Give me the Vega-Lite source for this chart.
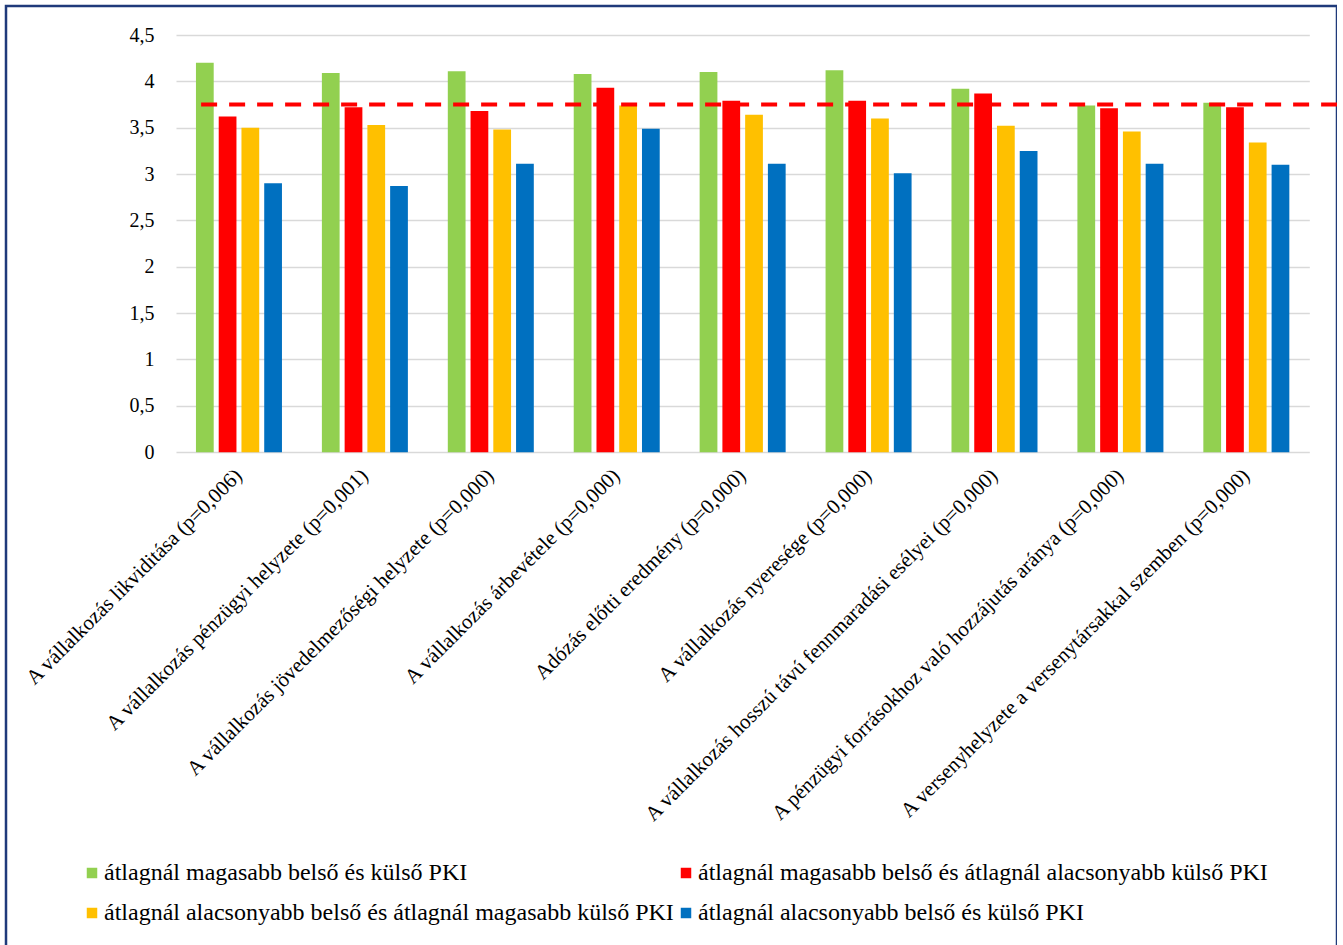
{
  "$schema": "https://vega.github.io/schema/vega-lite/v6.json",
  "width": 1331,
  "height": 945,
  "autosize": "none",
  "padding": {"left": 6, "top": 6, "right": 0, "bottom": 0},
  "background": "white",
  "config": {
    "view": {"stroke": "#1F3A7A", "strokeWidth": 2.5},
    "font": "Times New Roman, Liberation Serif, serif"
  },
  "datasets": {
    "bars": [
      {"cat": "A vállalkozás likviditása (p=0,006)", "series": "átlagnál magasabb belső és külső PKI", "value": 4.20},
      {"cat": "A vállalkozás likviditása (p=0,006)", "series": "átlagnál magasabb belső és átlagnál alacsonyabb külső PKI", "value": 3.62},
      {"cat": "A vállalkozás likviditása (p=0,006)", "series": "átlagnál alacsonyabb belső és átlagnál magasabb külső PKI", "value": 3.50},
      {"cat": "A vállalkozás likviditása (p=0,006)", "series": "átlagnál alacsonyabb belső és külső PKI", "value": 2.90},
      {"cat": "A vállalkozás pénzügyi helyzete (p=0,001)", "series": "átlagnál magasabb belső és külső PKI", "value": 4.09},
      {"cat": "A vállalkozás pénzügyi helyzete (p=0,001)", "series": "átlagnál magasabb belső és átlagnál alacsonyabb külső PKI", "value": 3.72},
      {"cat": "A vállalkozás pénzügyi helyzete (p=0,001)", "series": "átlagnál alacsonyabb belső és átlagnál magasabb külső PKI", "value": 3.53},
      {"cat": "A vállalkozás pénzügyi helyzete (p=0,001)", "series": "átlagnál alacsonyabb belső és külső PKI", "value": 2.87},
      {"cat": "A vállalkozás jövedelmezőségi helyzete (p=0,000)", "series": "átlagnál magasabb belső és külső PKI", "value": 4.11},
      {"cat": "A vállalkozás jövedelmezőségi helyzete (p=0,000)", "series": "átlagnál magasabb belső és átlagnál alacsonyabb külső PKI", "value": 3.68},
      {"cat": "A vállalkozás jövedelmezőségi helyzete (p=0,000)", "series": "átlagnál alacsonyabb belső és átlagnál magasabb külső PKI", "value": 3.48},
      {"cat": "A vállalkozás jövedelmezőségi helyzete (p=0,000)", "series": "átlagnál alacsonyabb belső és külső PKI", "value": 3.11},
      {"cat": "A vállalkozás árbevétele (p=0,000)", "series": "átlagnál magasabb belső és külső PKI", "value": 4.08},
      {"cat": "A vállalkozás árbevétele (p=0,000)", "series": "átlagnál magasabb belső és átlagnál alacsonyabb külső PKI", "value": 3.93},
      {"cat": "A vállalkozás árbevétele (p=0,000)", "series": "átlagnál alacsonyabb belső és átlagnál magasabb külső PKI", "value": 3.74},
      {"cat": "A vállalkozás árbevétele (p=0,000)", "series": "átlagnál alacsonyabb belső és külső PKI", "value": 3.49},
      {"cat": "Adózás előtti eredmény (p=0,000)", "series": "átlagnál magasabb belső és külső PKI", "value": 4.10},
      {"cat": "Adózás előtti eredmény (p=0,000)", "series": "átlagnál magasabb belső és átlagnál alacsonyabb külső PKI", "value": 3.79},
      {"cat": "Adózás előtti eredmény (p=0,000)", "series": "átlagnál alacsonyabb belső és átlagnál magasabb külső PKI", "value": 3.64},
      {"cat": "Adózás előtti eredmény (p=0,000)", "series": "átlagnál alacsonyabb belső és külső PKI", "value": 3.11},
      {"cat": "A vállalkozás nyeresége (p=0,000)", "series": "átlagnál magasabb belső és külső PKI", "value": 4.12},
      {"cat": "A vállalkozás nyeresége (p=0,000)", "series": "átlagnál magasabb belső és átlagnál alacsonyabb külső PKI", "value": 3.79},
      {"cat": "A vállalkozás nyeresége (p=0,000)", "series": "átlagnál alacsonyabb belső és átlagnál magasabb külső PKI", "value": 3.60},
      {"cat": "A vállalkozás nyeresége (p=0,000)", "series": "átlagnál alacsonyabb belső és külső PKI", "value": 3.01},
      {"cat": "A vállalkozás hosszú távú fennmaradási esélyei (p=0,000)", "series": "átlagnál magasabb belső és külső PKI", "value": 3.92},
      {"cat": "A vállalkozás hosszú távú fennmaradási esélyei (p=0,000)", "series": "átlagnál magasabb belső és átlagnál alacsonyabb külső PKI", "value": 3.87},
      {"cat": "A vállalkozás hosszú távú fennmaradási esélyei (p=0,000)", "series": "átlagnál alacsonyabb belső és átlagnál magasabb külső PKI", "value": 3.52},
      {"cat": "A vállalkozás hosszú távú fennmaradási esélyei (p=0,000)", "series": "átlagnál alacsonyabb belső és külső PKI", "value": 3.25},
      {"cat": "A pénzügyi forrásokhoz való hozzájutás aránya (p=0,000)", "series": "átlagnál magasabb belső és külső PKI", "value": 3.74},
      {"cat": "A pénzügyi forrásokhoz való hozzájutás aránya (p=0,000)", "series": "átlagnál magasabb belső és átlagnál alacsonyabb külső PKI", "value": 3.71},
      {"cat": "A pénzügyi forrásokhoz való hozzájutás aránya (p=0,000)", "series": "átlagnál alacsonyabb belső és átlagnál magasabb külső PKI", "value": 3.46},
      {"cat": "A pénzügyi forrásokhoz való hozzájutás aránya (p=0,000)", "series": "átlagnál alacsonyabb belső és külső PKI", "value": 3.11},
      {"cat": "A versenyhelyzete a versenytársakkal szemben (p=0,000)", "series": "átlagnál magasabb belső és külső PKI", "value": 3.77},
      {"cat": "A versenyhelyzete a versenytársakkal szemben (p=0,000)", "series": "átlagnál magasabb belső és átlagnál alacsonyabb külső PKI", "value": 3.72},
      {"cat": "A versenyhelyzete a versenytársakkal szemben (p=0,000)", "series": "átlagnál alacsonyabb belső és átlagnál magasabb külső PKI", "value": 3.34},
      {"cat": "A versenyhelyzete a versenytársakkal szemben (p=0,000)", "series": "átlagnál alacsonyabb belső és külső PKI", "value": 3.10}
    ],
    "threshold": [{"cat": "A vállalkozás likviditása (p=0,006)", "level": 3.75}]
  },
  "layer": [
    {
      "data": {"name": "bars"},
      "mark": {"type": "bar"},
      "encoding": {
        "x": {
          "field": "cat",
          "type": "nominal",
          "sort": null,
          "scale": {"range": [170, 1303.3], "paddingInner": 0.317, "paddingOuter": 0.1585},
          "axis": {
            "title": null,
            "offset": -498.8,
            "domain": false,
            "ticks": false,
            "grid": false,
            "labelAngle": -45,
            "labelAlign": "right",
            "labelBaseline": "middle",
            "labelPadding": 20,
            "labelFont": "Times New Roman, Liberation Serif, serif",
            "labelFontSize": 21,
            "labelColor": "#000000",
            "labelLimit": 600,
            "labelOverlap": false
          }
        },
        "xOffset": {
          "field": "series",
          "type": "nominal",
          "sort": [
            "átlagnál magasabb belső és külső PKI",
            "átlagnál magasabb belső és átlagnál alacsonyabb külső PKI",
            "átlagnál alacsonyabb belső és átlagnál magasabb külső PKI",
            "átlagnál alacsonyabb belső és külső PKI"
          ],
          "scale": {"paddingInner": 0.22, "paddingOuter": 0}
        },
        "y": {
          "field": "value",
          "type": "quantitative",
          "scale": {"domain": [0, 4.5], "range": [446.2, 29], "nice": false, "zero": true},
          "axis": {
            "title": null,
            "offset": -170,
            "values": [0, 0.5, 1, 1.5, 2, 2.5, 3, 3.5, 4, 4.5],
            "labelExpr": "replace(toString(datum.value), '.', ',')",
            "domain": false,
            "ticks": false,
            "grid": true,
            "gridColor": "#D9D9D9",
            "gridWidth": 1.5,
            "labelPadding": 22,
            "labelFont": "Times New Roman, Liberation Serif, serif",
            "labelFontSize": 20,
            "labelColor": "#000000"
          }
        },
        "color": {
          "field": "series",
          "type": "nominal",
          "scale": {
            "domain": [
              "átlagnál magasabb belső és külső PKI",
              "átlagnál magasabb belső és átlagnál alacsonyabb külső PKI",
              "átlagnál alacsonyabb belső és átlagnál magasabb külső PKI",
              "átlagnál alacsonyabb belső és külső PKI"
            ],
            "range": ["#92D050", "#FF0000", "#FFC000", "#0070C0"]
          },
          "legend": {
            "title": null,
            "orient": "none",
            "direction": "horizontal",
            "legendX": 74,
            "legendY": 855,
            "columns": 2,
            "columnPadding": 0,
            "rowPadding": 16,
            "padding": 0,
            "symbolType": "square",
            "symbolSize": 110,
            "symbolStrokeWidth": 0,
            "symbolOpacity": 1,
            "labelOffset": 0,
            "labelFont": "Times New Roman, Liberation Serif, serif",
            "labelFontSize": 24,
            "labelColor": "#000000",
            "labelLimit": 800
          }
        }
      }
    },
    {
      "data": {"name": "threshold"},
      "mark": {"type": "rule", "color": "#FF0000", "strokeWidth": 4, "strokeDash": [16, 12]},
      "encoding": {
        "x": {"field": "cat", "type": "nominal", "sort": null, "bandPosition": 0.06},
        "x2": {"value": "width"},
        "y": {"field": "level", "type": "quantitative"}
      }
    }
  ]
}
